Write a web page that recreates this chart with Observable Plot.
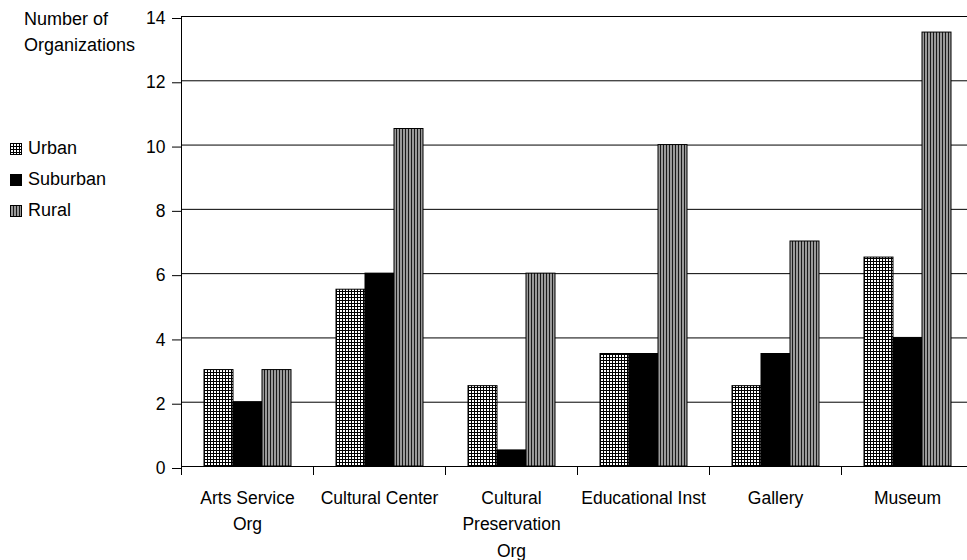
<!DOCTYPE html>
<html>
<head>
<meta charset="utf-8">
<script src="https://cdn.jsdelivr.net/npm/d3@7"></script>
<script src="https://cdn.jsdelivr.net/npm/@observablehq/plot@0.6"></script>
<style>
  html, body { margin: 0; padding: 0; background: #fff; overflow: hidden; }
  #wrap { position: relative; width: 967px; height: 560px; overflow: hidden;
          font-family: "Liberation Sans", Arial, sans-serif; font-size: 18px; color: #000; }
  #ytitle { position: absolute; left: 24px; top: 6px; line-height: 26px; }
  #legend { position: absolute; left: 10px; top: 133px; }
  #legend .item { display: flex; align-items: center; height: 31px; }
  #legend svg { margin-right: 6px; }
  #chart { position: absolute; left: 0; top: 0; width: 975px; }
  #chart svg { max-width: none !important; }
</style>
</head>
<body>
<svg width="0" height="0" style="position:absolute">
  <defs>
    <!-- fine square grid for urban bars -->
    <pattern id="pat-urban" width="3" height="3" patternUnits="userSpaceOnUse">
      <rect width="3" height="3" fill="#fff"/>
      <rect x="0" y="0" width="3" height="1" fill="#000"/>
      <rect x="0" y="0" width="1" height="3" fill="#000"/>
    </pattern>
    <!-- vertical stripes for rural bars -->
    <pattern id="pat-rural" width="3" height="3" patternUnits="userSpaceOnUse">
      <rect width="3" height="3" fill="#9a9a9a"/>
      <rect x="0" y="0" width="1" height="3" fill="#1a1a1a"/>
    </pattern>
  </defs>
</svg>
<div id="wrap">
  <div id="chart"></div>
  <div id="ytitle">Number of<br>Organizations</div>
  <div id="legend"></div>
</div>
<script>
const categories = ["Arts Service Org", "Cultural Center", "Cultural Preservation Org", "Educational Inst", "Gallery", "Museum"];
const tickLabels = ["Arts Service\nOrg", "Cultural Center", "Cultural\nPreservation\nOrg", "Educational Inst", "Gallery", "Museum"];
const seriesNames = ["Urban", "Suburban", "Rural"];
const urban = [3, 5.5, 2.5, 3.5, 2.5, 6.5];
const suburban = [2, 6, 0.5, 3.5, 3.5, 4];
const rural = [3, 10.5, 6, 10, 7, 13.5];
const yTicks = [0, 2, 4, 6, 8, 10, 12, 14];

const seriesFills = ["url(#pat-urban)", "#000", "url(#pat-rural)"];
const seriesValues = [urban, suburban, rural];

const rows = categories.flatMap((c, i) =>
  seriesNames.map((s, j) => ({category: c, series: s, value: seriesValues[j][i]}))
);

const chart = Plot.plot({
  width: 975,
  height: 560,
  marginLeft: 178,
  marginRight: 0,
  marginTop: 16,
  marginBottom: 94,
  style: {fontFamily: "'Liberation Sans', Arial, sans-serif", fontSize: "17.5px", color: "#000", background: "transparent", maxWidth: "none"},
  fx: {domain: categories, padding: 0, label: null, axis: null},
  x: {domain: seriesNames, paddingInner: 0, paddingOuter: 0.73, axis: null},
  y: {domain: [0, 14], label: null},
  color: {domain: seriesNames, range: seriesFills},
  marks: [
    Plot.gridY(yTicks, {stroke: "#000", strokeOpacity: 1}),
    Plot.barY(rows, {fx: "category", x: "series", y: "value", fill: "series", stroke: "#000", strokeWidth: 1}),
    Plot.ruleY([0], {stroke: "#000"}),
    Plot.axisY(yTicks, {tickSize: 9, tickPadding: 7, dy: 2, label: null, fontSize: 17.5}),
    Plot.axisFx({anchor: "bottom", tickSize: 0, tickPadding: 19, label: null, lineHeight: 1.5, fontSize: 17.5,
      tickFormat: (d) => tickLabels[categories.indexOf(d)]}),
    Plot.frame({anchor: "left", facetAnchor: "left", insetBottom: -8, stroke: "#000"}),
    Plot.frame({anchor: "left", insetTop: 450, insetBottom: -8, stroke: "#000"})
  ]
});
chart.style.maxWidth = "none";
document.getElementById("chart").appendChild(chart);

// legend: pattern swatch + series name
const legend = d3.select("#legend");
seriesNames.forEach((name, i) => {
  const item = legend.append("div").attr("class", "item");
  const sw = item.append("svg").attr("width", 12).attr("height", 12);
  sw.append("rect").attr("x", 0.5).attr("y", 0.5).attr("width", 11).attr("height", 11)
    .attr("fill", seriesFills[i]).attr("stroke", "#000");
  item.append("span").text(name);
});
</script>
</body>
</html>
